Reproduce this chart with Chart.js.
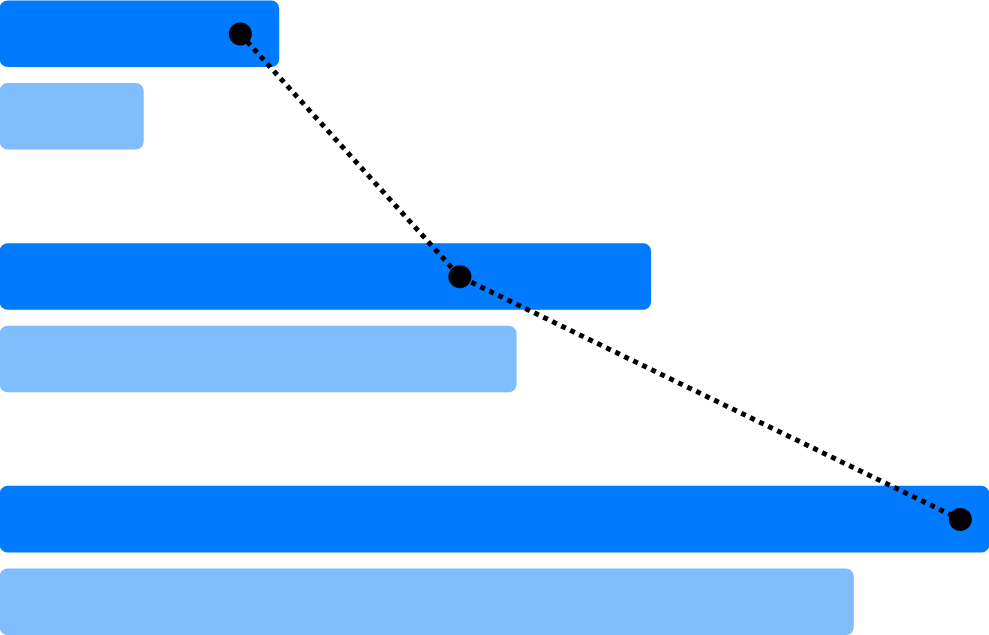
<!DOCTYPE html>
<html>
<head>
<meta charset="utf-8">
<script src="https://cdn.jsdelivr.net/npm/chart.js@4.4.1/dist/chart.umd.min.js"></script>
<style>
  body { margin:0; background:#fff; }
  #wrap { width:989px; height:635px; }
</style>
</head>
<body>
<div id="wrap"><canvas id="myChart"></canvas></div>
<script>
var categories = ["Group 1", "Group 2", "Group 3"]
var darkValues = [28.2, 65.8, 100]
var lightValues = [14.5, 52.2, 86.3]
var lineValues = [24.3, 46.5, 97.1]

function toPoints(values){
    return values.map(function(v, i){ return { x: v, y: i } })
}

var ctx = document.getElementById("myChart")

var myChart = new Chart(ctx, {
    type: 'bar',
    data: {
        labels: categories,
        datasets: [{
            type: 'line',
            label: 'Line',
            data: toPoints(lineValues),
            yAxisID: 'yLine',
            borderColor: '#000',
            borderWidth: 5,
            borderDash: [5, 5],
            pointRadius: 11.5,
            pointBackgroundColor: '#000',
            pointBorderWidth: 0,
            fill: false,
            order: 0
        }, {
            label: 'Dark',
            data: toPoints(darkValues),
            backgroundColor: '#007bff',
            yAxisID: 'y',
            order: 1
        }, {
            label: 'Light',
            data: toPoints(lightValues),
            backgroundColor: '#80bdff',
            yAxisID: 'y',
            order: 2
        }]
    },
    options: {
        indexAxis: 'y',
        responsive: true,
        maintainAspectRatio: false,
        animation: false,
        layout: { padding: 0, autoPadding: false },
        datasets: {
            bar: {
                barThickness: 'flex',
                // flex on a linear index axis halves the band, so double it
                categoryPercentage: 1.36,
                barPercentage: 0.8,
                borderRadius: 8,
                borderSkipped: false,
                borderWidth: 0
            }
        },
        scales: {
            x: { type: 'linear', min: 0, max: 100, offset: false, display: false },
            y: { type: 'linear', axis: 'y', reverse: true, offset: false, min: -0.309, max: 2.307, display: false },
            yLine: { type: 'linear', axis: 'y', reverse: true, offset: false, min: -0.14, max: 2.476, display: false }
        },
        plugins: {
            legend: { display: false },
            tooltip: { enabled: false }
        }
    }
})
</script>
</body>
</html>
